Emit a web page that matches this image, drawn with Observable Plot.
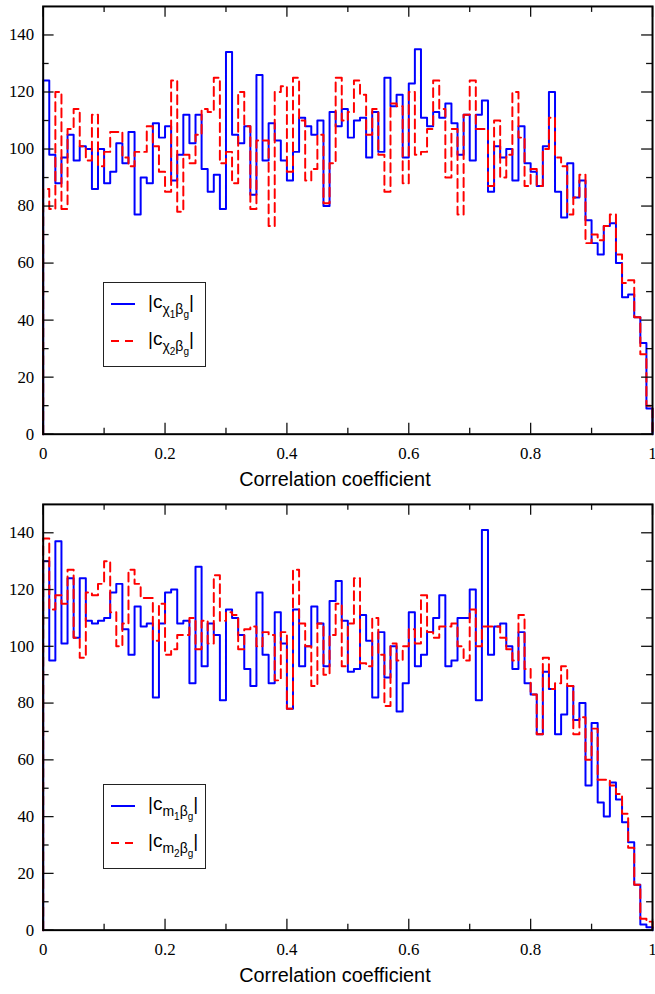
<!DOCTYPE html>
<html>
<head>
<meta charset="utf-8">
<script src="https://cdn.jsdelivr.net/npm/d3@7"></script>
<script src="https://cdn.jsdelivr.net/npm/@observablehq/plot@0.6"></script>
<style>
  html, body { margin: 0; padding: 0; background: #fff; overflow: hidden; }
  #page { position: relative; width: 655px; height: 994px; overflow: hidden; background: #fff; }
  .panel { position: relative; width: 655px; overflow: hidden; }
  .panel svg { display: block; }
  .legend { position: absolute; left: 103px; width: 101px; height: 83px; border: 1.5px solid #222; background: #fff; }
  .legend svg { position: absolute; left: 0; top: 0; }
  .lab { position: absolute; left: 44px; font-family: "Liberation Sans", Arial, sans-serif; font-size: 19px; line-height: 19px; white-space: nowrap; color: #000; }
  .lab .s1 { font-size: 14px; position: relative; top: 6px; }
  .lab .s2 { font-size: 10px; position: relative; top: 4px; }
</style>
</head>
<body>
<div id="page">
  <div class="panel" id="top"></div>
  <div class="panel" id="bottom"></div>
</div>
<script>
// ---------------- data (bin counts, 100 bins of width 0.01 on [0,1]) ----------------
const topBlue = [
  124, 98, 88, 97, 105, 96, 101, 100, 86, 100,
  88, 92, 102, 95, 106, 77, 90, 88, 109, 104,
  108, 89, 98, 112, 102, 112, 93, 85, 91, 79,
  134, 105, 102, 108, 84, 126, 96, 109, 103, 96,
  89, 99, 111, 108, 105, 110, 80, 113, 108, 114,
  104, 110, 111, 97, 113, 99, 125, 115, 119, 97,
  123, 135, 111, 108, 113, 111, 116, 109, 98, 112,
  96, 112, 117, 85, 101, 97, 100, 89, 108, 95,
  92, 87, 101, 120, 85, 76, 95, 83, 89, 75,
  67, 63, 73, 74, 60, 48, 49, 41, 32, 9
];
const topRed = [
  86, 79, 120, 79, 107, 114, 101, 96, 112, 94,
  99, 106, 106, 97, 94, 99, 99, 108, 101, 92,
  85, 124, 78, 98, 95, 105, 114, 113, 125, 95,
  99, 88, 120, 108, 79, 103, 103, 73, 120, 122,
  92, 125, 110, 89, 93, 105, 81, 95, 125, 110,
  113, 124, 119, 105, 114, 98, 85, 116, 115, 88,
  120, 98, 99, 107, 124, 114, 90, 107, 77, 112,
  124, 107, 107, 87, 110, 90, 98, 120, 104, 87,
  93, 87, 100, 111, 97, 94, 77, 83, 91, 67,
  70, 68, 73, 77, 63, 53, 54, 41, 28, 10
];
const bottomBlue = [
  130, 95, 137, 101, 124, 103, 124, 109, 108, 109,
  110, 119, 122, 106, 97, 114, 107, 108, 82, 108,
  119, 120, 108, 109, 87, 128, 93, 108, 104, 81,
  113, 110, 104, 92, 86, 119, 97, 87, 112, 101,
  78, 113, 93, 100, 114, 108, 93, 116, 123, 109,
  91, 92, 111, 102, 82, 105, 89, 100, 77, 87,
  112, 93, 97, 105, 110, 118, 93, 95, 110, 110,
  120, 81, 141, 97, 107, 108, 100, 92, 105, 87,
  83, 69, 91, 85, 69, 76, 86, 74, 80, 51,
  73, 45, 40, 52, 46, 38, 31, 16, 2, 1
];
const bottomRed = [
  138, 113, 118, 115, 127, 103, 96, 119, 118, 122,
  130, 112, 100, 108, 127, 122, 117, 117, 102, 115,
  97, 99, 104, 104, 110, 99, 109, 101, 125, 109,
  112, 111, 99, 106, 107, 100, 105, 104, 88, 105,
  78, 127, 108, 100, 86, 108, 90, 104, 115, 93,
  108, 124, 94, 93, 110, 97, 79, 101, 95, 100,
  106, 101, 118, 105, 103, 107, 107, 108, 100, 95,
  113, 100, 107, 107, 107, 103, 99, 95, 111, 92,
  83, 69, 96, 85, 87, 93, 86, 69, 75, 60,
  71, 53, 53, 51, 48, 41, 29, 16, 4, 3
];
const binCount = 100;
const xMajorTicks = [0, 0.2, 0.4, 0.6, 0.8, 1];
const xMinorTicks = [0.1, 0.3, 0.5, 0.7, 0.9];
const yMajorTicks = [0, 20, 40, 60, 80, 100, 120, 140];
const yMinorTicks = [10, 30, 50, 70, 90, 110, 130];
const xTitle = "Correlation coefficient";
const legendSubs = [[["χ", "1"], ["χ", "2"]], [["m", "1"], ["m", "2"]]];

const SERIF = "'Liberation Serif', 'Times New Roman', serif";
const SANS = "'Liberation Sans', Arial, Helvetica, sans-serif";

// step outline points built from the bin counts
function stepPoints(vals) {
  const pts = [{x: 0, y: 0}];
  vals.forEach((v, i) => pts.push({x: i / binCount, y: v}));
  pts.push({x: 1, y: vals[vals.length - 1]});
  pts.push({x: 1, y: 0});
  return pts;
}

function panel(blue, red, lay) {
  const W = 660, mL = 43, mR = 3;
  const plotW = W - mL - mR, plotH = lay.H - lay.mT - lay.mB;
  const majLen = 11, minLen = 6;
  const tickStyle = {stroke: "#111", strokeWidth: 1.3};
  return Plot.plot({
    width: W, height: lay.H,
    marginLeft: mL, marginRight: mR, marginTop: lay.mT, marginBottom: lay.mB,
    x: {domain: [0, 1]},
    y: {domain: [0, 150]},
    style: {background: "#fff", fontFamily: SERIF, fontSize: "17px", color: "#000"},
    marks: [
      Plot.line(stepPoints(blue), {x: "x", y: "y", curve: "step-after", stroke: "#0000ff", strokeWidth: 2}),
      Plot.line(stepPoints(red), {x: "x", y: "y", curve: "step-after", stroke: "#ff0000", strokeWidth: 2, strokeDasharray: "9,5"}),
      // inward ticks: bottom, top, left, right
      Plot.tickX(xMajorTicks, {x: d => d, insetTop: plotH - majLen, ...tickStyle}),
      Plot.tickX(xMinorTicks, {x: d => d, insetTop: plotH - minLen, ...tickStyle}),
      Plot.tickX(xMajorTicks, {x: d => d, insetBottom: plotH - majLen, ...tickStyle}),
      Plot.tickX(xMinorTicks, {x: d => d, insetBottom: plotH - minLen, ...tickStyle}),
      Plot.tickY(yMajorTicks, {y: d => d, insetRight: plotW - majLen, ...tickStyle}),
      Plot.tickY(yMinorTicks, {y: d => d, insetRight: plotW - minLen, ...tickStyle}),
      Plot.tickY(yMajorTicks, {y: d => d, insetLeft: plotW - majLen, ...tickStyle}),
      Plot.tickY(yMinorTicks, {y: d => d, insetLeft: plotW - minLen, ...tickStyle}),
      Plot.frame({stroke: "#000", strokeWidth: 2}),
      Plot.axisX(xMajorTicks, {tickSize: 0, tickPadding: 13, tickFormat: d => String(d), label: null,
        fontSize: 17, fontFamily: SERIF, fill: "#000"}),
      Plot.axisY(yMajorTicks, {tickSize: 0, tickPadding: 9, tickFormat: d => String(d), label: null,
        fontSize: 17, fontFamily: SERIF, fill: "#000"}),
      Plot.text([xTitle], {text: d => d, frameAnchor: "bottom", dy: lay.titleDy, dx: -13,
        fontFamily: SANS, fontSize: 20, lineAnchor: "middle", fill: "#000"})
    ]
  });
}

document.getElementById("top").appendChild(panel(topBlue, topRed, {H: 495, mT: 6, mB: 58, titleDy: 46}));
document.getElementById("bottom").appendChild(panel(bottomBlue, bottomRed, {H: 499, mT: 13, mB: 57, titleDy: 46}));

// legends (inside each panel, lower left)
const legendTops = [282, 784];
legendTops.forEach((t, li) => {
  const box = document.createElement("div");
  box.className = "legend";
  box.style.top = t + "px";
  box.innerHTML =
    '<svg width="101" height="83">' +
    '<line x1="7" x2="31" y1="21" y2="21" stroke="#0000ff" stroke-width="2"/>' +
    '<line x1="7" x2="31" y1="58" y2="58" stroke="#ff0000" stroke-width="2" stroke-dasharray="8,6"/>' +
    '</svg>';
  legendSubs[li].forEach((lab, k) => {
    const d = document.createElement("div");
    d.className = "lab";
    d.style.top = (k === 0 ? 9 : 46) + "px";
    d.innerHTML = '|c<span class="s1">' + lab[0] + '<span class="s2">' + lab[1] + '</span>β<span class="s2">g</span></span>|';
    box.appendChild(d);
  });
  document.getElementById("page").appendChild(box);
});
</script>
</body>
</html>
